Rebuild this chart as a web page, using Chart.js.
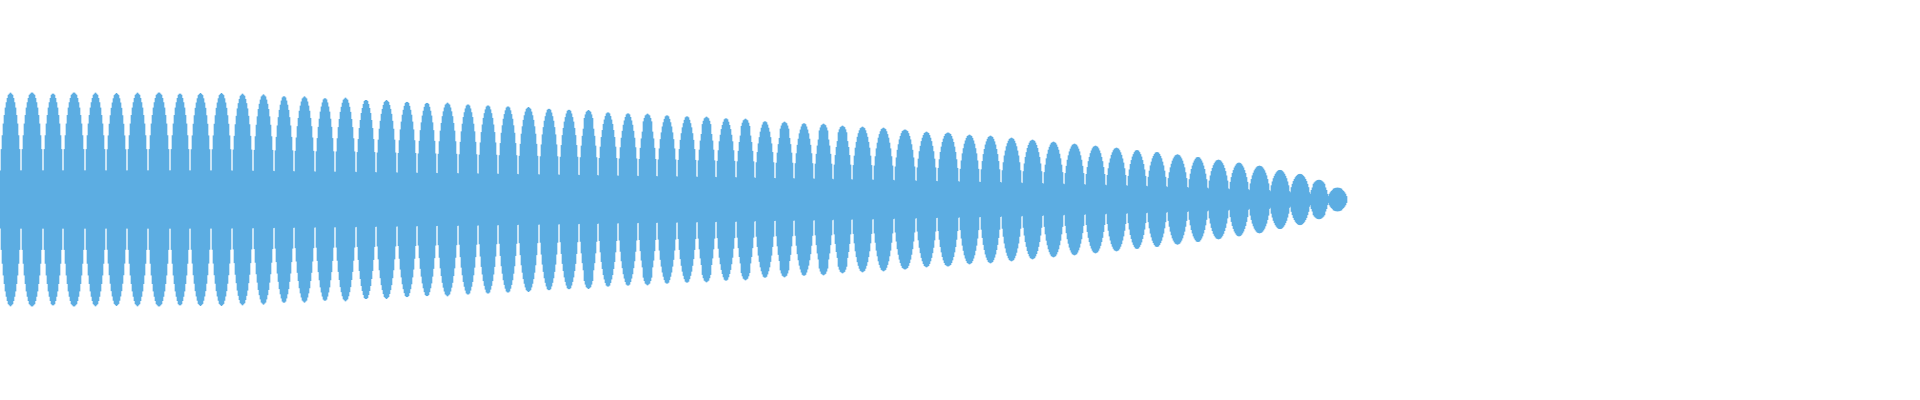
<!DOCTYPE html>
<html>
<head>
<meta charset="utf-8">
<script src="https://cdn.jsdelivr.net/npm/chart.js@4/dist/chart.umd.min.js"></script>
<style>
  body { margin: 0; background: #fff; }
  #wrap { width: 1920px; height: 400px; }
</style>
</head>
<body>
<div id="wrap"><canvas id="myChart"></canvas></div>
<script>
// peak half-height of each lobe
const lobeAmps = [
  106.5, 106.5, 106.5, 106.5, 106.5, 106.2, 106.5, 106.5, 106.5, 106.2,
  106.2, 105.5, 104.8, 103.8, 102.8, 101.8, 101.5, 100.2, 99.2, 98.2,
  97.2, 96.5, 95.5, 94.5, 93.5, 92.2, 91.2, 90.2, 89.2, 87.5,
  86.5, 85.5, 84.5, 83.5, 82.5, 81.5, 80.5, 78.5, 77.5, 76.5,
  75.5, 73.5, 72.5, 71.5, 69.5, 67.5, 66.5, 64.5, 63.5, 61.5,
  59.5, 57.5, 55.5, 53.5, 51.5, 49.5, 47.5, 44.8, 42.5, 39.5,
  36.8, 33.5, 29.5, 25.5, 19.5, 11.5,
];

// number of samples in each lobe
const lobeWidths = [
  21, 22, 20, 22, 21, 21, 21, 22, 20, 21,
  21, 21, 21, 20, 21, 20, 21, 20, 21, 20,
  20, 21, 20, 20, 20, 21, 20, 20, 19, 20,
  20, 19, 20, 20, 19, 20, 19, 20, 19, 20,
  19, 19, 21, 21, 22, 21, 22, 21, 21, 21,
  21, 21, 21, 21, 21, 20, 20, 21, 20, 21,
  20, 21, 20, 20, 18, 19,
];

// relative height across one lobe
const lobeShape = [
  0.27, 0.47, 0.6, 0.71, 0.79, 0.86, 0.91, 0.95, 0.98, 0.99, 1,
  0.99, 0.98, 0.95, 0.91, 0.86, 0.79, 0.71, 0.6, 0.47, 0.27,
];

const totalSlots = 1920;

const values = [];
for (let i = 0; i < lobeAmps.length; i++) {
  const w = lobeWidths[i];
  for (let j = 0; j < w; j++) {
    let k = Math.round(((j + 0.5) * lobeShape.length) / w - 0.5);
    k = Math.max(0, Math.min(lobeShape.length - 1, k));
    const h = lobeAmps[i] * lobeShape[k];
    values.push([-h, h]);
  }
}

const labels = [];
for (let i = 0; i < totalSlots; i++) labels.push("");

const data = {
  labels: labels,
  datasets: [
    {
      label: "wave",
      backgroundColor: "#5DADE2",
      borderWidth: 0,
      data: values,
      barPercentage: 1,
      categoryPercentage: 1,
    },
  ],
};

const config = {
  type: "bar",
  data: data,
  options: {
    responsive: true,
    maintainAspectRatio: false,
    animation: false,
    layout: { padding: 0 },
    plugins: {
      legend: { display: false },
      tooltip: { enabled: false },
    },
    scales: {
      x: { display: false },
      y: { display: false, min: -200.5, max: 199.5 },
    },
  },
};

const waveChart = new Chart(document.getElementById("myChart"), config);
</script>
</body>
</html>
